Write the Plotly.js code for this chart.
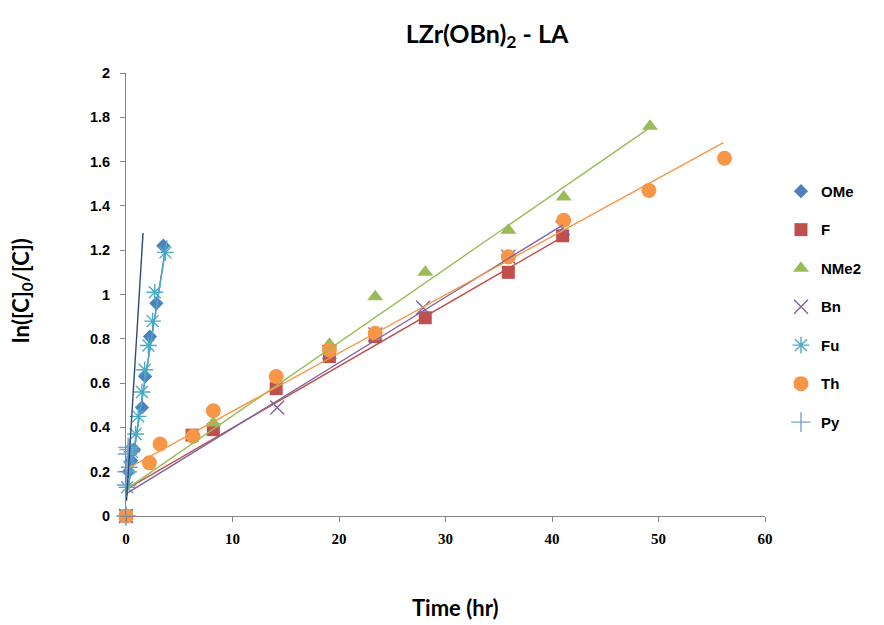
<!DOCTYPE html>
<html>
<head>
<meta charset="utf-8">
<script src="https://cdn.plot.ly/plotly-3.0.1.min.js"></script>
<style>html,body{margin:0;padding:0;background:#fff;}#chart{width:884px;height:625px;}</style>
</head>
<body>
<div id="chart"></div>
<script>
// ---- data ----
const seriesNames = ["OMe", "F", "NMe2", "Bn", "Fu", "Th", "Py"];

const omeTime = [0, 0.25, 0.5, 0.75, 1.5, 1.8, 2.25, 2.85, 3.5];
const omeVal  = [0, 0.20, 0.25, 0.30, 0.49, 0.63, 0.81, 0.96, 1.22];

const fTime = [0, 6.2, 8.2, 14.1, 19.1, 23.4, 28.1, 35.9, 41.0];
const fVal  = [0, 0.365, 0.39, 0.575, 0.72, 0.81, 0.895, 1.10, 1.265];

const nme2Time = [0, 8.2, 19.1, 23.4, 28.1, 35.9, 41.1, 49.2];
const nme2Val  = [0, 0.42, 0.775, 0.99, 1.10, 1.29, 1.44, 1.76];

const bnTime = [0, 14.2, 19.1, 23.4, 27.9, 35.9, 41.0];
const bnVal  = [0, 0.49, 0.74, 0.82, 0.94, 1.17, 1.30];

const fuTime = [0, 0.1, 0.3, 0.55, 0.9, 1.15, 1.5, 1.75, 2.1, 2.5, 2.7, 3.7];
const fuVal  = [0, 0.13, 0.22, 0.29, 0.37, 0.45, 0.56, 0.66, 0.77, 0.88, 1.01, 1.19];

const thTime = [0, 2.2, 3.2, 6.3, 8.2, 14.1, 19.1, 23.4, 35.9, 41.1, 49.1, 56.2];
const thVal  = [0, 0.24, 0.325, 0.36, 0.475, 0.63, 0.75, 0.825, 1.17, 1.335, 1.47, 1.615];

const pyTime = [0, 0.05, 0.1, 0.15, 0.2, 0.3];
const pyVal  = [0, 0.14, 0.20, 0.28, 0.31, 0.30];

// linear trendlines (slope, intercept, time span)
const fitSlope     = [0.31, 0.0278, 0.0332, 0.0296, 0.305, 0.0263, 0.78];
const fitIntercept = [0.06, 0.12, 0.12, 0.10, 0.07, 0.21, 0.03];
const fitStart     = [0.25, 0, 0, 0, 0.1, 0, 0.05];
const fitEnd       = [3.75, 41.0, 49.2, 41.0, 3.85, 56.1, 1.6];

const xTicks = [0, 10, 20, 30, 40, 50, 60];
const yTicks = [0, 0.2, 0.4, 0.6, 0.8, 1, 1.2, 1.4, 1.6, 1.8, 2];

// ---- styles ----
const markerColors = ["#4F81BD", "#C0504D", "#9BBB59", "#8064A2", "#4BACC6", "#F79646", "#7F9FD2"];
const lineColors   = ["#4F81BD", "#C0504D", "#9BBB59", "#8064A2", "#4BACC6", "#F79646", "#2C4D75"];
const symbols = ["diamond", "square", "triangle-up", "x-thin-open", "asterisk-open", "circle", "cross-thin-open"];
const sizes   = [11, 13, 14, 14, 14, 15, 14];
const times = [omeTime, fTime, nme2Time, bnTime, fuTime, thTime, pyTime];
const vals  = [omeVal, fVal, nme2Val, bnVal, fuVal, thVal, pyVal];

const traces = [];
for (let i = 0; i < seriesNames.length; i++) {
  const thin = symbols[i].indexOf("open") >= 0;
  traces.push({
    type: "scatter", mode: "markers", name: seriesNames[i],
    x: times[i], y: vals[i], cliponaxis: false,
    legendgroup: "g" + i,
    marker: {
      symbol: symbols[i], size: sizes[i], color: markerColors[i],
      line: thin ? {width: 1.4, color: markerColors[i]} : {width: 0}
    }
  });
}
for (let i = 0; i < seriesNames.length; i++) {
  const xs = [fitStart[i], fitEnd[i]];
  traces.push({
    type: "scatter", mode: "lines", showlegend: false, hoverinfo: "skip",
    x: xs, y: xs.map(t => fitIntercept[i] + fitSlope[i] * t),
    line: {color: lineColors[i], width: 1.4}
  });
}

const axisCommon = {
  showline: true, linecolor: "#868686", linewidth: 1,
  ticks: "outside", ticklen: 5, tickcolor: "#868686",
  showgrid: false, zeroline: false, mirror: false
};

const layout = {
  width: 884, height: 625,
  margin: {l: 126, r: 119, t: 73, b: 109, autoexpand: false},
  paper_bgcolor: "#fff", plot_bgcolor: "#fff",
  showlegend: true,
  title: {
    text: "<b>LZr(OBn)<sub>2</sub> - LA</b>",
    font: {family: "Lato, 'Open Sans', sans-serif", size: 25, color: "#000"},
    xref: "container", x: 0.551, xanchor: "center",
    yref: "container", y: 0.945, yanchor: "middle"
  },
  xaxis: Object.assign({}, axisCommon, {
    range: [0, 60], tickvals: xTicks, ticktext: xTicks.map(String),
    ticklabelstandoff: 4,
    tickfont: {family: "'Liberation Serif', serif", size: 15, color: "#000", weight: "bold"}
  }),
  yaxis: Object.assign({}, axisCommon, {
    range: [0, 2], tickvals: yTicks, ticktext: yTicks.map(String),
    ticklabelstandoff: 7,
    tickfont: {family: "'Liberation Sans', Arial, sans-serif", size: 14.5, color: "#000", weight: "bold"}
  }),
  legend: {
    x: 1.025, xanchor: "left", y: 0.77, yanchor: "top",
    font: {family: "'Liberation Sans', Arial, sans-serif", size: 15, color: "#000", weight: "bold"},
    traceorder: "grouped", tracegroupgap: 16, itemwidth: 30,
    bgcolor: "rgba(0,0,0,0)"
  },
  annotations: [
    {text: "<b>Time (hr)</b>", xref: "paper", yref: "paper", x: 0.515, y: -0.207,
     xanchor: "center", yanchor: "middle", showarrow: false,
     font: {family: "Lato, 'Open Sans', sans-serif", size: 22, color: "#000"}},
    {text: "<b>ln([C]<sub>0</sub>/[C])</b>", xref: "paper", yref: "paper", x: -0.163, y: 0.51,
     xanchor: "center", yanchor: "middle", textangle: -90, showarrow: false,
     font: {family: "Lato, 'Open Sans', sans-serif", size: 22, color: "#000"}}
  ]
};

Plotly.newPlot("chart", traces, layout, {displayModeBar: false, staticPlot: true});
</script>
</body>
</html>
